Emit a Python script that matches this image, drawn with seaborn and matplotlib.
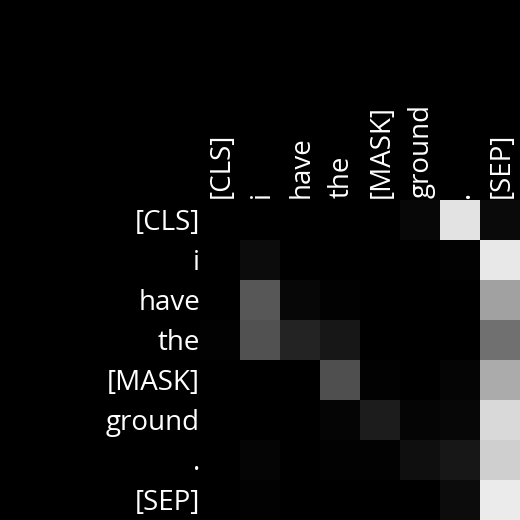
import numpy as np
import matplotlib
matplotlib.use("Agg")
import matplotlib.pyplot as plt
import matplotlib.transforms as mtransforms
import pandas as pd
import seaborn as sns

tokens = ["[CLS]", "i", "have", "the", "[MASK]", "ground", ".", "[SEP]"]

# attention weights per row (read from the grey levels)
row_cls = [0.00, 0.00, 0.00, 0.00, 0.00, 0.03, 0.89, 0.04]
row_i = [0.00, 0.05, 0.00, 0.00, 0.00, 0.00, 0.01, 0.91]
row_have = [0.00, 0.34, 0.03, 0.01, 0.00, 0.00, 0.00, 0.63]
row_the = [0.01, 0.32, 0.14, 0.09, 0.00, 0.00, 0.00, 0.44]
row_mask = [0.00, 0.00, 0.00, 0.31, 0.01, 0.00, 0.02, 0.67]
row_ground = [0.00, 0.00, 0.00, 0.02, 0.11, 0.02, 0.03, 0.85]
row_dot = [0.00, 0.02, 0.00, 0.01, 0.01, 0.06, 0.09, 0.81]
row_sep = [0.00, 0.01, 0.00, 0.00, 0.00, 0.00, 0.05, 0.92]

df = pd.DataFrame(
    [row_cls, row_i, row_have, row_the, row_mask, row_ground, row_dot, row_sep],
    index=tokens,
    columns=tokens,
)

sns.set_theme(style="white")
plt.rcParams["font.family"] = ["Open Sans", "DejaVu Sans"]

fig = plt.figure(figsize=(5.2, 5.2), dpi=100, facecolor="black")
ax = fig.add_axes([200 / 520, 0, 320 / 520, 320 / 520])
ax.set_facecolor("black")

sns.heatmap(df, ax=ax, cmap="gray", vmin=0, vmax=1, cbar=False, square=False)

ax.xaxis.tick_top()
ax.tick_params(length=0, colors="white", labelsize=20)
ax.tick_params(axis="x", pad=1.5)
ax.tick_params(axis="y", pad=0)
plt.setp(ax.get_xticklabels(), rotation=90, color="white")
plt.setp(ax.get_yticklabels(), rotation=0, color="white")

# nudge labels a few pixels to sit like the original
dx = mtransforms.ScaledTranslation(2 / 100, 0, fig.dpi_scale_trans)
dy = mtransforms.ScaledTranslation(0, -3 / 100, fig.dpi_scale_trans)
for lab in ax.get_xticklabels():
    lab.set_transform(lab.get_transform() + dx)
for lab in ax.get_yticklabels():
    lab.set_transform(lab.get_transform() + dy)

ax.set_xlabel("")
ax.set_ylabel("")
for s in ax.spines.values():
    s.set_visible(False)

fig.savefig("out.png", dpi=100, facecolor="black")
plt.close()
